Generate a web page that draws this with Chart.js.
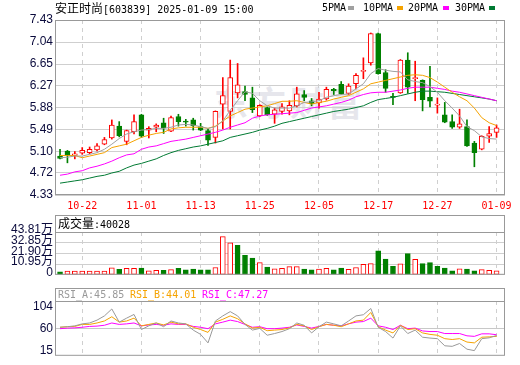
<!DOCTYPE html>
<html>
<head>
<meta charset="utf-8">
<script src="https://cdn.jsdelivr.net/npm/chart.js@4.4.1/dist/chart.umd.min.js"></script>
<style>
  body { margin: 0; background: #fff; }
  #wrap { position: relative; width: 520px; height: 365px; overflow: hidden; background: #fff; }
  canvas { position: absolute; left: 0; }
  .txt { position: absolute; white-space: pre; line-height: 12px; color: #000; }
  .mono { font-family: 'DejaVu Sans Mono', 'Liberation Mono', monospace; font-size: 10px; }
  .cjk { font-family: 'Noto Sans CJK SC', sans-serif; font-size: 12px; }
  .strip { position: absolute; left: 55px; width: 448px; border: 1px solid #999; border-bottom: none; }
  .sq { position: absolute; width: 6px; height: 4px; }
  .mark { position: absolute; left: 214px; top: 82px; white-space: pre; color: #e6e6ec;
    font-family: 'Noto Sans CJK SC', sans-serif; font-weight: bold; font-size: 34px; line-height: 40px; letter-spacing: 4px; }
</style>
</head>
<body>
<div id="wrap">
  <div class="mark">东方财富</div>
  <canvas id="priceChart" width="520" height="215" style="top:0"></canvas>
  <div class="strip" style="top:215px; height:16px"></div>
  <canvas id="volChart" width="520" height="70" style="top:214px"></canvas>
  <div class="strip" style="top:288px; height:12px"></div>
  <canvas id="rsiChart" width="520" height="79" style="top:286px"></canvas>

  <div class="txt" style="left:55px; top:2px"><span class="cjk">安正时尚</span><span class="mono">[603839] 2025-01-09 15:00</span></div>
  <div class="txt mono" style="left:322px; top:2px">5PMA</div><div class="sq" style="left:348px; top:6px; background:#a0a0a0"></div>
  <div class="txt mono" style="left:363px; top:2px">10PMA</div><div class="sq" style="left:397px; top:6px; background:#f5a300"></div>
  <div class="txt mono" style="left:408px; top:2px">20PMA</div><div class="sq" style="left:443px; top:6px; background:#ff00ff"></div>
  <div class="txt mono" style="left:455px; top:2px">30PMA</div><div class="sq" style="left:489px; top:6px; background:#007a33"></div>

  <div class="txt" style="left:58px; top:217px"><span class="cjk">成交量</span><span class="mono">:40028</span></div>
  <div class="txt mono" style="left:58px; top:289px; color:#999">RSI_A:45.85</div>
  <div class="txt mono" style="left:130px; top:289px; color:#f5a300">RSI_B:44.01</div>
  <div class="txt mono" style="left:202px; top:289px; color:#ff00ff">RSI_C:47.27</div>
</div>
<script>
'use strict';

// x axis: one slot per trading day, 2024-10-17 .. 2025-01-09
const xMin = -0.68;
const xMax = 60.14;
const dateIdx = [3, 11, 19, 27, 35, 43, 51, 59];
const dateLabels = ['10-22', '11-01', '11-13', '11-25', '12-05', '12-17', '12-27', '01-09'];

// daily candles
const openP = [5.02, 5.11, 5.03, 5.07, 5.08, 5.13, 5.23, 5.34, 5.55, 5.28,
  5.45, 5.75, 5.48, 5.53, 5.61, 5.46, 5.72, 5.64, 5.66, 5.54,
  5.47, 5.35, 5.94, 5.81, 6.14, 6.16, 6.05, 5.73, 5.88, 5.76,
  5.81, 5.82, 5.91, 6.11, 6.00, 5.96, 6.03, 6.20, 6.29, 6.13,
  6.30, 6.52, 6.67, 7.19, 6.50, 6.07, 6.14, 6.72, 6.39, 6.36,
  6.06, 5.92, 5.75, 5.63, 5.53, 5.54, 5.25, 5.14, 5.37, 5.44];
const highP = [5.14, 5.12, 5.10, 5.17, 5.18, 5.24, 5.35, 5.66, 5.63, 5.48,
  5.75, 5.76, 5.54, 5.59, 5.69, 5.73, 5.76, 5.67, 5.69, 5.60,
  5.50, 5.82, 6.41, 6.72, 6.66, 6.26, 6.24, 5.93, 5.89, 5.87,
  5.95, 6.00, 6.24, 6.18, 6.04, 6.15, 6.24, 6.22, 6.34, 6.30,
  6.48, 6.76, 7.20, 7.20, 6.55, 6.13, 6.73, 6.85, 6.70, 6.37,
  6.61, 6.05, 5.97, 5.75, 5.85, 5.66, 5.28, 5.38, 5.54, 5.57];
const lowP = [4.97, 4.90, 4.97, 5.05, 5.06, 5.11, 5.22, 5.32, 5.36, 5.22,
  5.41, 5.35, 5.34, 5.45, 5.42, 5.45, 5.55, 5.55, 5.48, 5.47,
  5.21, 5.25, 5.50, 5.50, 6.05, 6.00, 5.79, 5.72, 5.74, 5.60,
  5.76, 5.75, 5.89, 6.00, 5.91, 5.87, 6.01, 6.11, 6.11, 6.11,
  6.21, 6.39, 6.63, 6.47, 6.15, 5.93, 6.13, 6.13, 6.00, 5.82,
  5.89, 5.78, 5.61, 5.51, 5.51, 5.19, 4.83, 5.13, 5.26, 5.35];
const closeP = [4.98, 5.03, 5.06, 5.12, 5.14, 5.20, 5.31, 5.57, 5.38, 5.47,
  5.63, 5.37, 5.51, 5.57, 5.52, 5.70, 5.63, 5.62, 5.56, 5.48,
  5.30, 5.81, 6.09, 6.41, 6.28, 6.11, 5.84, 5.92, 5.75, 5.84,
  5.89, 5.92, 6.12, 6.06, 5.95, 6.03, 6.20, 6.18, 6.12, 6.26,
  6.45, 6.54, 7.19, 6.48, 6.22, 6.06, 6.72, 6.24, 6.41, 6.02,
  5.99, 5.94, 5.62, 5.53, 5.59, 5.20, 5.08, 5.37, 5.42, 5.52];
const prevClose = 5.02;

// moving averages as drawn
const ma5 = [4.99, 5.00, 5.02, 5.02, 5.05, 5.08, 5.14, 5.23, 5.33, 5.41,
  5.45, 5.48, 5.49, 5.51, 5.51, 5.53, 5.57, 5.58, 5.57, 5.54,
  5.51, 5.54, 5.64, 5.83, 6.00, 6.16, 6.13, 6.00, 5.91, 5.87,
  5.87, 5.87, 5.91, 5.97, 5.98, 6.00, 6.06, 6.09, 6.11, 6.12,
  6.21, 6.30, 6.48, 6.57, 6.54, 6.52, 6.51, 6.37, 6.34, 6.32,
  6.25, 6.15, 6.00, 5.87, 5.73, 5.54, 5.47, 5.36, 5.33, 5.32];
const ma10 = [5.03, 5.03, 5.03, 4.99, 5.02, 5.05, 5.08, 5.17, 5.20, 5.23,
  5.29, 5.35, 5.39, 5.42, 5.44, 5.50, 5.52, 5.53, 5.53, 5.53,
  5.51, 5.55, 5.64, 5.73, 5.79, 5.85, 5.87, 5.89, 5.91, 5.95,
  5.99, 5.99, 6.00, 5.97, 5.94, 5.97, 5.99, 6.03, 6.06, 6.09,
  6.15, 6.21, 6.30, 6.33, 6.36, 6.39, 6.42, 6.45, 6.46, 6.45,
  6.41, 6.33, 6.24, 6.15, 6.07, 6.00, 5.87, 5.70, 5.61, 5.56];
const ma20 = [4.68, 4.70, 4.74, 4.76, 4.81, 4.84, 4.88, 4.93, 4.99, 5.04,
  5.06, 5.14, 5.18, 5.20, 5.24, 5.28, 5.30, 5.32, 5.35, 5.38,
  5.41, 5.44, 5.48, 5.53, 5.57, 5.61, 5.69, 5.73, 5.75, 5.76,
  5.77, 5.78, 5.79, 5.83, 5.87, 5.89, 5.91, 5.94, 5.97, 6.01,
  6.07, 6.11, 6.14, 6.15, 6.15, 6.17, 6.19, 6.22, 6.24, 6.24,
  6.24, 6.22, 6.20, 6.17, 6.15, 6.12, 6.09, 6.06, 6.03, 6.00];
const ma30 = [4.54, 4.56, 4.58, 4.60, 4.63, 4.66, 4.68, 4.72, 4.75, 4.81,
  4.86, 4.89, 4.93, 4.97, 5.03, 5.08, 5.12, 5.15, 5.18, 5.20,
  5.23, 5.26, 5.29, 5.35, 5.38, 5.41, 5.44, 5.48, 5.51, 5.55,
  5.60, 5.63, 5.66, 5.69, 5.72, 5.75, 5.78, 5.81, 5.83, 5.85,
  5.88, 5.91, 5.97, 6.02, 6.04, 6.06, 6.09, 6.12, 6.15, 6.17,
  6.17, 6.16, 6.15, 6.13, 6.11, 6.09, 6.07, 6.05, 6.03, 6.00];
const priceTicks = [4.33, 4.72, 5.10, 5.49, 5.88, 6.27, 6.65, 7.04, 7.43];

// volume, in 万 shares
const volume = [3.1, 3.7, 3.7, 3.7, 3.7, 3.7, 3.7, 7.1, 5.6, 6.5,
  6.5, 6.8, 4.0, 4.7, 4.7, 5.3, 6.5, 5.0, 5.9, 5.0,
  5.0, 7.5, 39.1, 32.6, 30.1, 19.9, 17.1, 12.4, 7.8, 6.2,
  6.5, 8.4, 8.4, 5.9, 5.0, 5.9, 6.5, 5.0, 6.8, 5.6,
  7.5, 10.6, 11.5, 24.5, 16.2, 8.7, 11.2, 21.7, 15.8, 11.5,
  12.4, 8.7, 6.8, 4.0, 6.2, 5.9, 4.0, 5.3, 4.7, 4.0];
const volTicks = [0, 10.95, 21.90, 32.85, 43.81];
const volLabels = ['0', '10.95万', '21.90万', '32.85万', '43.81万'];

// RSI lines
const rsiA = [62.3, 63.4, 65.1, 69.1, 70.9, 76.6, 85.1, 99.0, 72.6, 80.6,
  88.0, 57.7, 65.1, 70.9, 63.4, 74.9, 70.9, 69.1, 56.6, 48.0,
  30.9, 74.9, 85.1, 93.7, 85.1, 68.0, 56.6, 60.0, 46.3, 49.7,
  53.7, 59.4, 70.9, 66.3, 50.9, 63.4, 72.6, 69.1, 65.1, 74.9,
  85.1, 87.4, 100.0, 62.3, 53.7, 40.6, 65.1, 49.7, 56.6, 42.3,
  40.6, 39.4, 25.1, 24.0, 29.7, 18.3, 15.4, 39.4, 41.1, 45.85];
const rsiB = [62.3, 63.4, 64.0, 68.0, 68.0, 70.9, 74.9, 83.4, 72.6, 74.9,
  80.6, 65.1, 68.0, 70.9, 66.9, 72.6, 69.1, 69.1, 62.3, 57.7,
  52.0, 72.6, 78.3, 85.1, 79.4, 69.1, 60.6, 62.3, 55.4, 56.6,
  57.7, 61.1, 68.0, 65.1, 57.7, 63.4, 68.0, 66.3, 63.4, 69.1,
  74.9, 76.6, 92.0, 63.4, 56.6, 50.9, 66.3, 57.7, 59.4, 50.9,
  48.0, 46.3, 39.4, 37.7, 39.4, 32.6, 30.9, 42.3, 43.0, 44.01];
const rsiC = [59.4, 60.6, 61.1, 62.3, 64.0, 64.6, 66.3, 70.9, 68.0, 69.1,
  70.9, 65.1, 66.9, 68.0, 66.3, 69.1, 68.0, 68.0, 64.0, 62.3,
  59.4, 69.1, 72.6, 76.6, 73.7, 68.0, 62.3, 63.4, 59.4, 59.4,
  60.6, 62.3, 66.9, 64.0, 60.6, 64.0, 68.0, 66.3, 65.1, 69.1,
  72.6, 73.7, 80.6, 65.1, 62.3, 57.7, 66.3, 59.4, 60.6, 54.9,
  53.7, 53.7, 49.7, 49.7, 49.7, 45.1, 44.0, 49.1, 49.1, 47.27];
const rsiTicks = [15, 60, 104];

const RED = '#ff0000';
const GREEN = '#008000';
const GRID = '#cfcfcf';
const LABEL = '#0a0a3c';

Chart.defaults.animation = false;
Chart.defaults.events = [];
Chart.defaults.plugins.legend.display = false;
Chart.defaults.plugins.tooltip.enabled = false;

// frame around each plot area
const boxPlugin = {
  id: 'box',
  afterDraw(chart) {
    const a = chart.chartArea;
    const ctx = chart.ctx;
    ctx.save();
    ctx.strokeStyle = '#999';
    ctx.lineWidth = 1;
    ctx.strokeRect(a.left + 0.5, a.top + 0.5, a.right - a.left - 1, a.bottom - a.top - 1);
    ctx.restore();
  },
};

function xAxis(showLabels, height) {
  return {
    type: 'linear',
    min: xMin,
    max: xMax,
    offset: false,
    afterBuildTicks: (s) => { s.ticks = dateIdx.map((v) => ({ value: v })); },
    afterFit: (s) => { s.height = height; },
    ticks: {
      display: showLabels,
      autoSkip: false,
      maxRotation: 0,
      padding: 5,
      color: RED,
      font: { family: "'DejaVu Sans Mono', monospace", size: 10 },
      callback: (v, i) => dateLabels[i],
    },
    grid: { color: GRID, drawTicks: false, offset: false },
    border: { display: false, dash: [4, 4] },
  };
}

function yAxis(min, max, tickVals, labels, gridFn, offset) {
  return {
    min: min,
    max: max,
    afterBuildTicks: (s) => { s.ticks = tickVals.map((v) => ({ value: v })); },
    afterFit: (s) => { s.width = 55; },
    ticks: {
      autoSkip: false,
      padding: 2,
      labelOffset: offset,
      color: LABEL,
      font: { family: "'Liberation Sans', 'Noto Sans CJK SC', sans-serif", size: 12 },
      callback: (v, i) => labels[i],
    },
    grid: { color: gridFn, drawTicks: false },
    border: { display: false },
  };
}

const idx = closeP.map((c, i) => i);
const isUp = idx.map((i) => closeP[i] >= openP[i]);
const volUp = idx.map((i) => closeP[i] >= (i === 0 ? prevClose : closeP[i - 1]));

function maLine(values, color) {
  return {
    type: 'line',
    data: values.map((v, i) => ({ x: i, y: v })),
    borderColor: color,
    borderWidth: 1,
    pointRadius: 0,
    tension: 0,
    order: 0,
  };
}

new Chart(document.getElementById('priceChart'), {
  type: 'bar',
  data: {
    datasets: [
      maLine(ma5, '#a0a0a0'),
      maLine(ma10, '#f5a300'),
      maLine(ma20, '#ff00ff'),
      maLine(ma30, '#007a33'),
      {
        // candle bodies
        data: idx.map((i) => ({ x: i, y: [openP[i], closeP[i]] })),
        backgroundColor: idx.map((i) => (isUp[i] ? '#ffffff' : GREEN)),
        borderColor: idx.map((i) => (isUp[i] ? RED : GREEN)),
        borderWidth: 1,
        borderSkipped: false,
        barThickness: 5,
        minBarLength: 1,
        grouped: false,
        order: 1,
      },
      {
        // wicks
        data: idx.map((i) => ({ x: i, y: [lowP[i], highP[i]] })),
        backgroundColor: idx.map((i) => (isUp[i] ? RED : GREEN)),
        borderWidth: 0,
        barThickness: 1,
        grouped: false,
        order: 2,
      },
    ],
  },
  options: {
    responsive: false,
    layout: { padding: { top: 20, right: 15, left: 0, bottom: 0 } },
    scales: {
      x: xAxis(true, 20),
      y: yAxis(4.33, 7.43, priceTicks, priceTicks.map((v) => v.toFixed(2)), GRID, 0),
    },
  },
  plugins: [boxPlugin],
});

new Chart(document.getElementById('volChart'), {
  type: 'bar',
  data: {
    datasets: [
      {
        data: idx.map((i) => ({ x: i, y: volume[i] })),
        backgroundColor: idx.map((i) => (volUp[i] ? '#ffffff' : GREEN)),
        borderColor: idx.map((i) => (volUp[i] ? RED : GREEN)),
        borderWidth: 1,
        borderSkipped: false,
        barThickness: 5,
        grouped: false,
      },
    ],
  },
  options: {
    responsive: false,
    layout: { padding: { top: 18, right: 15, left: 0, bottom: 0 } },
    scales: {
      x: xAxis(false, 5),
      y: yAxis(0, 43.81, volTicks, volLabels, GRID, -2),
    },
  },
  plugins: [boxPlugin],
});

new Chart(document.getElementById('rsiChart'), {
  type: 'line',
  data: {
    datasets: [
      { data: rsiA.map((v, i) => ({ x: i, y: v })), borderColor: '#999999' },
      { data: rsiB.map((v, i) => ({ x: i, y: v })), borderColor: '#f5a300' },
      { data: rsiC.map((v, i) => ({ x: i, y: v })), borderColor: '#ff00ff' },
    ].map((d) => Object.assign(d, { borderWidth: 1, pointRadius: 0, tension: 0 })),
  },
  options: {
    responsive: false,
    layout: { padding: { top: 15, right: 15, left: 0, bottom: 0 } },
    scales: {
      x: xAxis(false, 1),
      y: yAxis(5, 115, rsiTicks, rsiTicks.map(String),
        (c) => (c.tick && c.tick.value === 60 ? '#c8c8c8' : 'rgba(0,0,0,0)'), 0),
    },
  },
  plugins: [boxPlugin],
});
</script>
</body>
</html>
